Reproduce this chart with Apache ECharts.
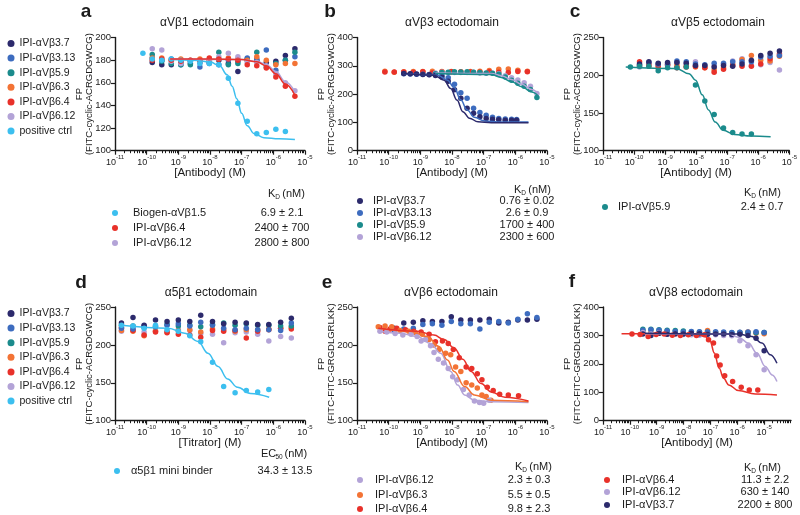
<!DOCTYPE html>
<html><head><meta charset="utf-8">
<script src="https://cdn.jsdelivr.net/npm/echarts/dist/echarts.min.js"></script>
<style>html,body{margin:0;padding:0;background:#fff}#c{width:800px;height:515px}</style>
</head><body><div id="c"></div><script>
// ---------------- DATA ----------------
const seriesNames = ['IPI-αVβ3.7','IPI-αVβ3.13','IPI-αVβ5.9','IPI-αVβ6.3','IPI-αVβ6.4','IPI-αVβ6.12','positive ctrl'];
const xTickLabels = [1e-11,1e-10,1e-9,1e-8,1e-7,1e-6,1e-5];
const yTicksA = [100,200,20], yTicksB = [0,400,100], yTicksC = [100,250,50];
const yTicksD = [100,250,50], yTicksE = [100,250,50], yTicksF = [0,400,100];

// panel a
const a_conc = [1.5e-10,3.0e-10,6.0e-10,1.2e-9,2.4e-9,4.8e-9,9.5e-9,1.9e-8,3.8e-8,7.6e-8,1.5e-7,3.0e-7,6.0e-7,1.2e-6,2.4e-6,4.8e-6];
const a_navy = [178,176,176,178,177,178,178,180,177,170,181,180,178,179,184,190];
const a_blue = [182,180,181,176,179,174,177,176,180,179,182,181,189,171,180,183];
const a_teal = [185,179,177,176,176,179,180,187,176,177,180,187,174,177,180,187];
const a_orange = [182,182,180,181,180,181,180,181,182,181,180,183,180,176,177,177];
const a_red = [180,181,180,179,180,180,182,181,181,180,176,175,173,165,157,148];
const a_lav = [190,189,179,177,180,178,181,183,186,183,178,178,175,168,160,153];
const a_cyanConc = [7.6e-11,1.5e-10,3.0e-10,6.0e-10,1.2e-9,2.4e-9,4.8e-9,9.5e-9,1.9e-8,3.8e-8,7.6e-8,1.5e-7,3.0e-7,6.0e-7,1.2e-6,2.4e-6];
const a_cyan = [186,181,180,181,180,179,177,177,176,164,142,126,115,116,119,117];
const a_fitCyan = [[6e-10,180.5],[3e-9,180],[1e-8,178.5],[2e-8,175],[3.5e-8,167],[5e-8,157],[7e-8,146],[1e-7,133],[1.5e-7,122],[2.5e-7,115],[5e-7,111.5],[1.5e-6,110.5],[4.8e-6,110]];
const a_fitRed = [[5.5e-10,181],[1e-8,181],[1e-7,180.5],[3e-7,178.5],[6e-7,175],[1.2e-6,168],[2.4e-6,159],[4.8e-6,149]];
const a_fitLav = [[5.5e-10,181],[1e-7,180.5],[3e-7,179],[6e-7,176],[1.2e-6,170],[2.4e-6,161],[4.8e-6,152]];

// panel b
const b_concN = [3.0e-10,4.8e-10,7.6e-10,1.2e-9,1.9e-9,3.0e-9,4.8e-9,7.6e-9,1.2e-8,1.9e-8,3.0e-8,4.8e-8,7.6e-8,1.2e-7,1.9e-7,3.0e-7,4.8e-7,7.6e-7,1.1e-6];
const b_navy = [273,272,271,269,268,266,260,245,215,185,150,132,120,114,111,109,108,108,108];
const b_blue = [272,271,270,270,269,268,266,258,235,205,185,150,135,125,118,114,112,111,110];
const b_concT = [3.0e-9,4.8e-9,7.6e-9,1.2e-8,1.9e-8,3.0e-8,4.8e-8,7.6e-8,1.2e-7,1.9e-7,3.0e-7,4.8e-7,7.6e-7,1.2e-6,1.9e-6,3.0e-6,4.8e-6];
const b_teal = [272,276,277,279,278,279,277,276,275,274,270,260,249,238,228,216,188];
const b_lav = [275,277,276,276,276,276,277,275,274,274,272,265,258,250,240,228,202];
const b_concO = [7.6e-11,1.5e-10,3.0e-10,6.0e-10,1.2e-9,2.4e-9,4.8e-9,9.5e-9,1.9e-8,3.8e-8,7.6e-8,1.5e-7,3.0e-7,6.0e-7,1.2e-6,2.4e-6];
const b_orange = [281,277,279,280,280,281,280,280,279,280,281,283,288,289,284,281];
const b_red = [278,278,278,277,279,275,278,279,278,278,277,279,277,276,280,279];
const b_fitNavy = [[2.95e-10,273],[2.7e-9,267],[5.6e-9,249],[9.1e-9,220],[1.43e-8,179],[2.2e-8,138],[3.55e-8,115],[6.6e-8,102],[1.75e-7,99],[2.6e-6,99]];
const b_fitBlue = [[2.95e-10,273],[3.5e-9,267],[7.2e-9,249],[1.17e-8,223],[1.9e-8,179],[3e-8,144],[5.1e-8,118],[1.07e-7,105],[3.6e-7,101],[2.6e-6,101]];
const b_fitTeal = [[3e-9,273],[1.75e-7,269],[3.6e-7,259],[7.6e-7,243.5],[1.6e-6,226],[3.3e-6,207],[5.1e-6,195]];
const b_fitLav = [[3e-9,275],[1.75e-7,273],[3.6e-7,265],[7.6e-7,252],[1.6e-6,235],[3.3e-6,216],[5.1e-6,202]];

// panel c
const c_concT = [7.6e-11,1.5e-10,3.0e-10,6.0e-10,1.2e-9,2.4e-9,4.8e-9,9.5e-9,1.9e-8,3.8e-8,7.6e-8,1.5e-7,3.0e-7,6.0e-7];
const c_teal = [211,212,212,206,210,210,211,187,166,148,130,124,122,122];
const c_conc = [1.5e-10,3.0e-10,6.0e-10,1.2e-9,2.4e-9,4.8e-9,9.5e-9,1.9e-8,3.8e-8,7.6e-8,1.5e-7,3.0e-7,6.0e-7,1.2e-6,2.4e-6,4.8e-6];
const c_navy = [215,218,216,217,217,216,213,213,211,213,212,215,220,226,229,232];
const c_blue = [214,217,215,215,219,218,215,214,216,216,218,218,218,224,225,226];
const c_orange = [213,212,210,214,213,212,211,210,207,210,215,221,226,220,219,225];
const c_red = [218,215,213,214,210,211,212,210,204,208,213,212,212,215,222,228];
const c_lav = [211,214,213,213,216,215,218,211,212,214,219,222,213,214,217,207];
const c_fitTeal = [[5.4e-11,211],[2.3e-9,209],[5.9e-9,202],[9.6e-9,193.5],[1.57e-8,174],[2.5e-8,154],[4.1e-8,138],[7.4e-8,127],[1.7e-7,121.6],[5.8e-7,119.4],[2.5e-6,118.5]];

// panel d
const d_conc = [1.6e-11,3.7e-11,8.3e-11,1.9e-10,4.4e-10,1.0e-9,2.3e-9,5.1e-9,1.2e-8,2.7e-8,6.2e-8,1.4e-7,3.2e-7,7.2e-7,1.7e-6,3.7e-6];
const d_navy = [229,236,226,233,231,233,231,239,231,228,230,229,227,227,230,235];
const d_blue = [222,221,225,224,226,228,225,230,226,222,220,222,220,220,219,229];
const d_teal = [226,225,223,224,227,225,226,224,227,229,226,228,226,226,225,225];
const d_orange = [219,218,212,218,217,219,220,217,221,220,218,220,220,221,222,223];
const d_red = [223,219,213,217,216,214,213,210,219,218,219,209,218,220,222,221];
const d_lav = [218,221,217,219,218,220,219,215,214,203,216,217,214,205,211,209];
const d_cyanConc = [1.6e-11,3.7e-11,8.3e-11,1.9e-10,4.4e-10,1.0e-9,2.3e-9,5.1e-9,1.2e-8,2.7e-8,6.2e-8,1.4e-7,3.2e-7,7.2e-7];
const d_cyan = [226,225,222,226,220,218,212,204,177,145,137,140,138,141];
const d_fitCyan = [[1.6e-11,226],[4.8e-10,222],[1.58e-9,215.5],[4.2e-9,204.5],[8.6e-9,189],[1.8e-8,171.5],[3.6e-8,155],[7.4e-8,144],[1.9e-7,136],[7.4e-7,131]];

// panel e
const e_conc = [1.5e-10,3.0e-10,6.0e-10,1.2e-9,2.4e-9,4.8e-9,9.5e-9,1.9e-8,3.8e-8,7.6e-8,1.5e-7,3.0e-7,6.0e-7,1.2e-6,2.4e-6,4.8e-6];
const e_navy = [222,229,230,232,231,231,237,233,233,233,234,229,230,233,233,234];
const e_blue = [219,221,222,227,228,226,231,228,228,221,230,231,229,234,241,236];
const e_concR = [5.3e-11,7.7e-11,1.1e-10,1.8e-10,3.4e-10,6.2e-10,1.06e-9,1.9e-9,3.0e-9,5.0e-9,7.6e-9,1.1e-8,1.7e-8,2.8e-8,4.2e-8,6.3e-8,8.8e-8,1.3e-7,2.0e-7,3.2e-7,6.0e-7,1.26e-6];
const e_red = [223,218,221,222,220,218,217,214,204,205,202,194,183,171,169,162,154,144,140,135,134,133];
const e_concO = [4.7e-11,7.7e-11,1.25e-10,2.3e-10,4.3e-10,6.9e-10,1.15e-9,1.9e-9,2.7e-9,3.9e-9,6.3e-9,9.1e-9,1.3e-8,1.9e-8,2.8e-8,4.2e-8,6.3e-8,8.8e-8,1.2e-7,1.7e-7];
const e_orange = [224,225,224,219,218,216,214,207,200,194,189,187,171,165,150,147,143,134,132,127];
const e_concL = [5.3e-11,8.7e-11,1.6e-10,2.8e-10,5.1e-10,7.9e-10,1.06e-9,1.45e-9,2.1e-9,2.7e-9,3.7e-9,5.4e-9,7.6e-9,1.05e-8,1.5e-8,2.3e-8,3.5e-8,5.1e-8,7.4e-8,1.0e-7,1.5e-7];
const e_lav = [218,217,215,213,214,211,205,207,199,190,181,176,169,158,154,141,134,126,124,123,127];
const e_fitLav = [[4.7e-11,218],[2.3e-10,215.5],[7.9e-10,211],[2.1e-9,202],[4.4e-9,189],[9.1e-9,165],[1.5e-8,147],[2.5e-8,134],[5.1e-8,127],[1.74e-7,125],[2.6e-6,124]];
const e_fitOrange = [[4.7e-11,222],[4.8e-10,218],[1.65e-9,211],[3.9e-9,198],[7.2e-9,180],[1.17e-8,165],[2.5e-8,145],[5.1e-8,134],[1.74e-7,127],[2.6e-6,125]];
const e_fitRed = [[4.7e-11,222],[7.9e-10,218],[2.7e-9,213],[5.6e-9,207],[1.17e-8,196],[2.2e-8,181],[4e-8,165],[8.3e-8,149],[1.74e-7,138],[4.7e-7,131],[2.6e-6,126]];

// panel f
const f_xMax = 1e-4;
const f_conc = [3.05e-10,6.1e-10,1.22e-9,2.44e-9,4.9e-9,9.8e-9,1.95e-8,3.9e-8,7.8e-8,1.56e-7,3.1e-7,6.25e-7,1.25e-6,2.5e-6,5e-6,1e-5];
const f_teal = [322,322,320,318,317,316,313,312,311,310,309,309,310,310,309,310];
const f_blue = [318,320,318,316,314,312,314,313,312,313,312,310,311,312,313,310];
const f_orange = [312,310,308,306,305,306,307,310,317,309,306,306,310,312,308,306];
const f_navy = [305,300,308,304,306,305,308,306,304,305,305,303,304,300,290,246];
const f_lav = [310,305,309,304,305,303,302,301,303,302,300,299,281,264,232,179];
const f_concR = [1.2e-10,2.4e-10,4.8e-10,9.5e-10,1.9e-9,3.8e-9,7.6e-9,1.5e-8,3e-8,6e-8,8.5e-8,1.3e-7,1.7e-7,2.3e-7,3.4e-7,6.7e-7,1.4e-6,2.8e-6,5.8e-6];
const f_red = [305,303,296,303,305,301,300,302,300,302,285,273,228,196,158,138,118,108,108];
const f_fitRed = [[4.9e-11,306],[2.7e-8,306],[6.3e-8,296],[9.8e-8,279],[1.4e-7,238],[2.1e-7,185],[3.1e-7,149],[4.8e-7,126],[1.1e-6,106],[4.7e-6,94],[3e-5,90.6]];
const f_fitLav = [[3.6e-10,306],[4.8e-7,305],[1.1e-6,294],[2.6e-6,273],[5.4e-6,238],[1.1e-5,191],[2e-5,161],[3e-5,138]];
const f_fitNavy = [[3.6e-10,308],[1.1e-6,305],[3.5e-6,296],[8.3e-6,273],[1.7e-5,232],[3e-5,202]];

// tables
const tabA = {head:'K', sub:'D', names:['Biogen-αVβ1.5','IPI-αVβ6.4','IPI-αVβ6.12'], keys:['positive ctrl','IPI-αVβ6.4','IPI-αVβ6.12'], vals:['6.9 ± 2.1','2400 ± 700','2800 ± 800']};
const tabB = {head:'K', sub:'D', names:['IPI-αVβ3.7','IPI-αVβ3.13','IPI-αVβ5.9','IPI-αVβ6.12'], keys:['IPI-αVβ3.7','IPI-αVβ3.13','IPI-αVβ5.9','IPI-αVβ6.12'], vals:['0.76 ± 0.02','2.6 ± 0.9','1700 ± 400','2300 ± 600']};
const tabC = {head:'K', sub:'D', names:['IPI-αVβ5.9'], keys:['IPI-αVβ5.9'], vals:['2.4 ± 0.7']};
const tabD = {head:'EC', sub:'50', names:['α5β1 mini binder'], keys:['positive ctrl'], vals:['34.3 ± 13.5']};
const tabE = {head:'K', sub:'D', names:['IPI-αVβ6.12','IPI-αVβ6.3','IPI-αVβ6.4'], keys:['IPI-αVβ6.12','IPI-αVβ6.3','IPI-αVβ6.4'], vals:['2.3 ± 0.3','5.5 ± 0.5','9.8 ± 2.3']};
const tabF = {head:'K', sub:'D', names:['IPI-αVβ6.4','IPI-αVβ6.12','IPI-αVβ3.7'], keys:['IPI-αVβ6.4','IPI-αVβ6.12','IPI-αVβ3.7'], vals:['11.3 ± 2.2','630 ± 140','2200 ± 800']};

// ---------------- STYLE / LAYOUT ----------------
const FONT = '"Liberation Sans", Arial, Helvetica, sans-serif';
const INK = '#1b1b1b';
const COL = {'IPI-αVβ3.7':'#2c2a6c','IPI-αVβ3.13':'#3d6cbf','IPI-αVβ5.9':'#1b8b8c','IPI-αVβ6.3':'#f37335','IPI-αVβ6.4':'#e8312a','IPI-αVβ6.12':'#b3a3d7','positive ctrl':'#3cbfef'};
const [N37,N313,N59,N63,N64,N612,NPC] = seriesNames;

const GRIDS = [
  {left:115, top:37.5, width:190, height:113.2},
  {left:357, top:37.5, width:190, height:113.2},
  {left:603, top:37.5, width:190, height:113.2},
  {left:115, top:307, width:190, height:113.7},
  {left:357, top:307, width:190, height:113.7},
  {left:603, top:307, width:188, height:113.7}
];

function minorTicks(maxExp){ const out=[]; for(let e=-11;e<maxExp;e++){ for(let m=2;m<=9;m++){ out.push(+(m*Math.pow(10,e)).toPrecision(3)); } } return out; }

const axisLineStyle = {color:INK, width:1.4};
function xAxesFor(p, max, name){
  const maxExp = Math.round(Math.log10(max));
  return [{
    type:'log', logBase:10, gridIndex:p, min:1e-11, max:max, position:'bottom',
    axisLine:{show:true, onZero:false, lineStyle:axisLineStyle},
    axisTick:{show:true, length:4, customValues:xTickLabels, lineStyle:{color:INK,width:1.2}},
    axisLabel:{show:true, customValues:xTickLabels, margin:4, color:INK,
      formatter: v => '{b|10}{s|-' + Math.abs(Math.round(Math.log10(v))) + '}',
      rich:{b:{fontSize:9, fontFamily:FONT, color:INK, lineHeight:12, verticalAlign:'bottom'},
            s:{fontSize:6, fontFamily:FONT, color:INK, lineHeight:8, verticalAlign:'top'}}},
    splitLine:{show:false},
    name:name, nameLocation:'middle', nameGap:16, nameMoveOverlap:false,
    nameTextStyle:{fontSize:11.5, fontFamily:FONT, color:INK}
  },{
    type:'log', logBase:10, gridIndex:p, min:1e-11, max:max, position:'bottom',
    axisLine:{show:false}, axisLabel:{show:false},
    axisTick:{show:true, length:2.5, customValues:minorTicks(maxExp), lineStyle:{color:INK,width:1}},
    splitLine:{show:false}
  }];
}
function yAxisFor(p, t, name){
  return {type:'value', gridIndex:p, min:t[0], max:t[1], interval:t[2],
    axisLine:{show:true, lineStyle:axisLineStyle},
    axisTick:{show:true, length:4, lineStyle:{color:INK,width:1.2}},
    axisLabel:{fontSize:9.5, fontFamily:FONT, color:INK, margin:4},
    splitLine:{show:false},
    name:name, nameLocation:'middle', nameRotate:90, nameGap:21, nameMoveOverlap:false,
    nameTextStyle:{fontSize:9.5, fontFamily:FONT, color:INK, lineHeight:9.5, align:'center'}};
}
function zip(xs, ys){ return xs.map((x,i)=>[x, ys[i]]); }
function dots(p, name, xs, ys){
  return {type:'scatter', name, xAxisIndex:2*p, yAxisIndex:p, data:zip(xs,ys), symbol:'circle', symbolSize:5.5,
    itemStyle:{color:COL[name], opacity:1}, silent:true, z:2};
}
function fit(p, name, pts){
  return {type:'line', name, xAxisIndex:2*p, yAxisIndex:p, data:pts, smooth:0.4, smoothMonotone:'x',
    showSymbol:false, symbol:'none', lineStyle:{color:COL[name], width:1.5}, itemStyle:{color:COL[name]}, silent:true, z:3};
}

const yNameRGD = 'FP\n(FITC-cyclic-ACRGDGWCG)';
const yNameLK = 'FP\n(FITC-FITC-GRGDLGRLKK)';

const xAxis = [].concat(
  xAxesFor(0, 1e-5, '[Antibody] (M)'), xAxesFor(1, 1e-5, '[Antibody] (M)'), xAxesFor(2, 1e-5, '[Antibody] (M)'),
  xAxesFor(3, 1e-5, '[Titrator] (M)'), xAxesFor(4, 1e-5, '[Antibody] (M)'), xAxesFor(5, f_xMax, '[Antibody] (M)'));
const yAxis = [yAxisFor(0,yTicksA,yNameRGD), yAxisFor(1,yTicksB,yNameRGD), yAxisFor(2,yTicksC,yNameRGD),
  yAxisFor(3,yTicksD,yNameRGD), yAxisFor(4,yTicksE,yNameLK), yAxisFor(5,yTicksF,yNameLK)];

const series = [
  dots(0,N37,a_conc,a_navy), dots(0,N313,a_conc,a_blue), dots(0,N59,a_conc,a_teal), dots(0,N63,a_conc,a_orange),
  dots(0,N612,a_conc,a_lav), dots(0,N64,a_conc,a_red), dots(0,NPC,a_cyanConc,a_cyan),
  fit(0,NPC,a_fitCyan), fit(0,N612,a_fitLav), fit(0,N64,a_fitRed),
  dots(1,N63,b_concO,b_orange), dots(1,N64,b_concO,b_red), dots(1,N612,b_concT,b_lav), dots(1,N59,b_concT,b_teal),
  dots(1,N313,b_concN,b_blue), dots(1,N37,b_concN,b_navy),
  fit(1,N612,b_fitLav), fit(1,N59,b_fitTeal), fit(1,N313,b_fitBlue), fit(1,N37,b_fitNavy),
  dots(2,N612,c_conc,c_lav), dots(2,N63,c_conc,c_orange), dots(2,N64,c_conc,c_red), dots(2,N313,c_conc,c_blue),
  dots(2,N37,c_conc,c_navy), dots(2,N59,c_concT,c_teal), fit(2,N59,c_fitTeal),
  dots(3,N612,d_conc,d_lav), dots(3,N63,d_conc,d_orange), dots(3,N64,d_conc,d_red), dots(3,N59,d_conc,d_teal),
  dots(3,N313,d_conc,d_blue), dots(3,N37,d_conc,d_navy), dots(3,NPC,d_cyanConc,d_cyan), fit(3,NPC,d_fitCyan),
  dots(4,N37,e_conc,e_navy), dots(4,N313,e_conc,e_blue), dots(4,N64,e_concR,e_red), dots(4,N63,e_concO,e_orange),
  dots(4,N612,e_concL,e_lav), fit(4,N612,e_fitLav), fit(4,N63,e_fitOrange), fit(4,N64,e_fitRed),
  dots(5,N63,f_conc,f_orange), dots(5,N59,f_conc,f_teal), dots(5,N313,f_conc,f_blue), dots(5,N612,f_conc,f_lav),
  dots(5,N37,f_conc,f_navy), dots(5,N64,f_concR,f_red),
  fit(5,N64,f_fitRed), fit(5,N612,f_fitLav), fit(5,N37,f_fitNavy)
];

// ---------------- GRAPHICS (labels, titles, tables) ----------------
const graphic = [];
function txt(x, y, s, size, opts){
  graphic.push({type:'text', x, y, silent:true, style:{text:s, font:(opts&&opts.weight||'normal')+' '+size+'px '+FONT,
    fill:INK, align:(opts&&opts.align)||'left', verticalAlign:'middle'}});
}
const letters = [['a',86,12],['b',330,12],['c',575,12],['d',81,283],['e',327,283],['f',572,282]];
letters.forEach(l => txt(l[1], l[2], l[0], 19, {weight:'bold', align:'center'}));
const titles = [['αVβ1 ectodomain',207,23],['αVβ3 ectodomain',452,23],['αVβ5 ectodomain',718,23],
  ['α5β1 ectodomain',211,293],['αVβ6 ectodomain',451,293],['αVβ8 ectodomain',696,293]];
titles.forEach(t => txt(t[1], t[2], t[0], 12, {align:'center'}));

function table(tab, dotX, nameX, valX, headX, headY, rowYs){
  graphic.push({type:'text', x:headX, y:headY, silent:true, style:{text:tab.head, font:'11px '+FONT, fill:INK, align:'left', verticalAlign:'middle'}});
  const hw = tab.head === 'K' ? 7.3 : 14.5;
  graphic.push({type:'text', x:headX+hw, y:headY+3, silent:true, style:{text:tab.sub, font:'6.5px '+FONT, fill:INK, align:'left', verticalAlign:'middle'}});
  const sw = tab.sub === 'D' ? 7 : 9;
  graphic.push({type:'text', x:headX+hw+sw, y:headY, silent:true, style:{text:'(nM)', font:'11px '+FONT, fill:INK, align:'left', verticalAlign:'middle'}});
  tab.names.forEach((n,i) => {
    graphic.push({type:'circle', silent:true, shape:{cx:dotX, cy:rowYs[i], r:3}, style:{fill:COL[tab.keys[i]]}});
    txt(nameX, rowYs[i], n, 11, {align:'left'});
    txt(valX, rowYs[i], tab.vals[i], 11, {align:'center'});
  });
}
table(tabA, 115, 133, 282, 268, 194, [213,228,243]);
table(tabB, 360, 373, 527, 514, 190, [201,213,225,237]);
table(tabC, 605, 618, 762, 744, 193, [207]);
table(tabD, 117, 131, 285, 261, 454, [471]);
table(tabE, 360, 375, 529, 515, 467, [480,495,509]);
table(tabF, 607, 622, 765, 744, 468, [480,492,505]);

const legendBase = {data:seriesNames, orient:'vertical', left:2.5, itemWidth:7, itemHeight:7, itemGap:3.6, icon:'circle',
  selectedMode:false, textStyle:{fontSize:10.5, lineHeight:11, fontFamily:FONT, color:INK}};

const chart = echarts.init(document.getElementById('c'), null, {renderer:'canvas'});
chart.setOption({
  animation:false,
  backgroundColor:'#ffffff',
  textStyle:{fontFamily:FONT},
  grid:GRIDS,
  xAxis, yAxis, series,
  legend:[Object.assign({top:33}, legendBase), Object.assign({top:303}, legendBase)],
  graphic
});
</script></body></html>
